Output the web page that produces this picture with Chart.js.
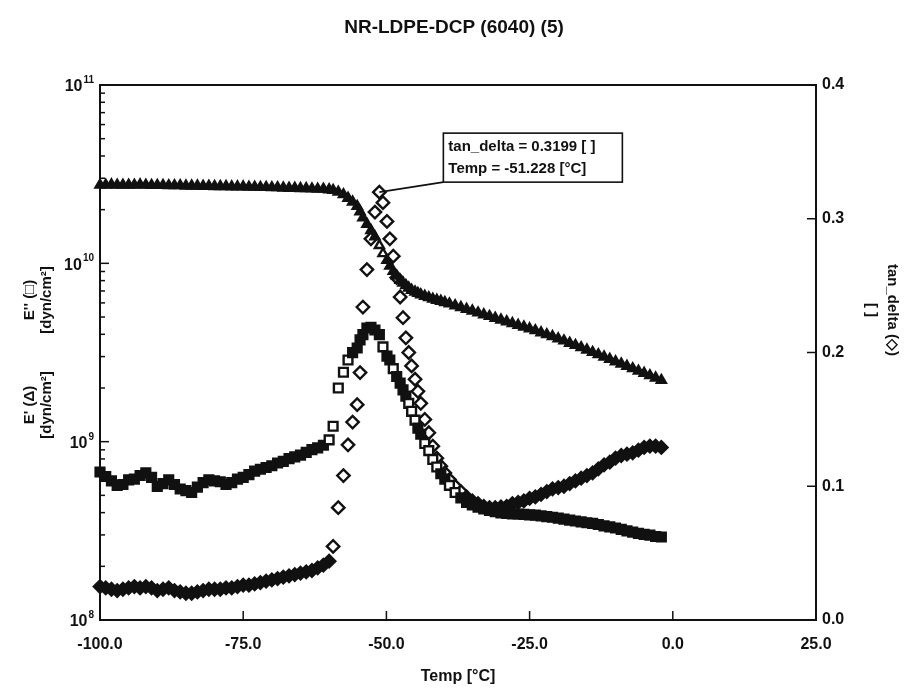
<!DOCTYPE html>
<html>
<head>
<meta charset="utf-8">
<title>NR-LDPE-DCP (6040) (5)</title>
<script src="https://cdn.jsdelivr.net/npm/chart.js@4/dist/chart.umd.min.js"></script>
<style>
  html, body { margin: 0; padding: 0; background: #fff; }
  #wrap { width: 908px; height: 698px; }
</style>
</head>
<body>
<div id="wrap"><canvas id="dma" width="908" height="698"></canvas></div>
<script>
// Temperature sweep [°C]
const temps = [
  -100, -99, -98, -97, -96, -95, -94, -93, -92, -91,
  -90, -89, -88, -87, -86, -85, -84, -83, -82, -81,
  -80, -79, -78, -77, -76, -75, -74, -73, -72, -71,
  -70, -69, -68, -67, -66, -65, -64, -63, -62, -61,
  -60,
  -59.3, -58.4, -57.5, -56.7, -55.9, -55.1, -54.6, -54.1, -53.4, -52.7,
  -52.0, -51.228, -50.6, -49.9, -49.4, -48.8, -48.2, -47.6, -47.1, -46.6,
  -46.1, -45.6, -45.0, -44.5, -44.0, -43.3, -42.6, -41.9, -41.2, -40.5,
  -39.8,
  -39, -38, -37, -36, -35, -34, -33, -32, -31,
  -30, -29, -28, -27, -26, -25, -24, -23, -22, -21,
  -20, -19, -18, -17, -16, -15, -14, -13, -12, -11,
  -10, -9, -8, -7, -6, -5, -4, -3, -2
];

// E' storage modulus [dyn/cm²]
const storageModulus = [
  2.75e10, 2.75e10, 2.76e10, 2.75e10, 2.75e10, 2.75e10, 2.75e10, 2.76e10, 2.75e10, 2.74e10,
  2.74e10, 2.74e10, 2.73e10, 2.73e10, 2.73e10, 2.72e10, 2.72e10, 2.72e10, 2.71e10, 2.71e10,
  2.70e10, 2.70e10, 2.70e10, 2.69e10, 2.69e10, 2.69e10, 2.68e10, 2.68e10, 2.67e10, 2.67e10,
  2.66e10, 2.66e10, 2.65e10, 2.64e10, 2.64e10, 2.63e10, 2.63e10, 2.62e10, 2.61e10, 2.61e10,
  2.59e10,
  2.57e10, 2.51e10, 2.43e10, 2.32e10, 2.21e10, 2.09e10, 1.95e10, 1.80e10, 1.66e10, 1.53e10,
  1.41e10, 1.26e10, 1.135e10, 1.04e10, 9.66e9, 9.02e9, 8.51e9, 8.05e9, 7.76e9, 7.52e9,
  7.28e9, 7.08e9, 6.92e9, 6.79e9, 6.68e9, 6.55e9, 6.43e9, 6.31e9, 6.22e9, 6.14e9,
  6.04e9,
  5.93e9, 5.79e9, 5.66e9, 5.53e9, 5.41e9, 5.28e9, 5.16e9, 5.05e9, 4.93e9,
  4.82e9, 4.71e9, 4.60e9, 4.50e9, 4.40e9, 4.30e9, 4.20e9, 4.09e9, 3.99e9, 3.89e9,
  3.78e9, 3.68e9, 3.57e9, 3.47e9, 3.37e9, 3.27e9, 3.17e9, 3.08e9, 2.99e9, 2.90e9,
  2.81e9, 2.73e9, 2.65e9, 2.57e9, 2.49e9, 2.42e9, 2.35e9, 2.28e9, 2.21e9
];

// E'' loss modulus [dyn/cm²]
const lossModulus = [
  6.76e8, 6.38e8, 6.03e8, 5.69e8, 5.75e8, 6.10e8, 6.17e8, 6.46e8, 6.68e8, 6.31e8,
  5.62e8, 5.82e8, 6.10e8, 5.75e8, 5.43e8, 5.31e8, 5.19e8, 5.56e8, 5.89e8, 6.10e8,
  6.03e8, 5.96e8, 5.75e8, 5.89e8, 6.17e8, 6.31e8, 6.53e8, 6.84e8, 7.00e8, 7.16e8,
  7.33e8, 7.59e8, 7.76e8, 8.04e8, 8.22e8, 8.41e8, 8.71e8, 9.02e8, 9.23e8, 9.55e8,
  1.023e9,
  1.22e9, 2.00e9, 2.45e9, 2.87e9, 3.16e9, 3.35e9, 3.72e9, 3.98e9, 4.34e9, 4.37e9,
  4.23e9, 3.98e9, 3.40e9, 3.02e9, 2.87e9, 2.57e9, 2.32e9, 2.13e9, 1.95e9, 1.80e9,
  1.64e9, 1.48e9, 1.32e9, 1.19e9, 1.10e9, 9.77e8, 8.91e8, 7.94e8, 7.21e8, 6.61e8,
  6.17e8,
  5.69e8, 5.19e8, 4.84e8, 4.57e8, 4.42e8, 4.29e8, 4.19e8, 4.12e8, 4.05e8,
  3.98e8, 3.96e8, 3.94e8, 3.93e8, 3.91e8, 3.89e8, 3.87e8, 3.84e8, 3.80e8, 3.77e8,
  3.73e8, 3.68e8, 3.63e8, 3.59e8, 3.55e8, 3.51e8, 3.48e8, 3.43e8, 3.37e8, 3.33e8,
  3.28e8, 3.22e8, 3.16e8, 3.11e8, 3.06e8, 3.02e8, 2.99e8, 2.94e8, 2.92e8
];

// tan delta [ ]
const tanDelta = [
  0.025, 0.024, 0.023, 0.022, 0.023, 0.024, 0.025, 0.024, 0.025, 0.024,
  0.022, 0.023, 0.024, 0.022, 0.021, 0.020, 0.020, 0.021, 0.022, 0.023,
  0.023, 0.023, 0.024, 0.024, 0.025, 0.026, 0.026, 0.027, 0.028, 0.029,
  0.030, 0.031, 0.032, 0.033, 0.034, 0.035, 0.036, 0.037, 0.039, 0.041,
  0.044,
  0.055, 0.084, 0.108, 0.131, 0.148, 0.161, 0.185, 0.234, 0.262, 0.285,
  0.305, 0.3199, 0.312, 0.298, 0.285, 0.272, 0.256, 0.2415, 0.226, 0.211,
  0.200, 0.190, 0.180, 0.171, 0.162, 0.150, 0.140, 0.130, 0.121, 0.115,
  0.110,
  0.105, 0.100, 0.096, 0.092, 0.089, 0.087, 0.085, 0.084, 0.084,
  0.0845, 0.085, 0.087, 0.088, 0.089, 0.091, 0.092, 0.094, 0.096, 0.098,
  0.099, 0.100, 0.102, 0.104, 0.106, 0.108, 0.110, 0.113, 0.116, 0.118,
  0.121, 0.123, 0.124, 0.125, 0.127, 0.129, 0.130, 0.130, 0.129
];

// Axis tick values
const tempTicks = [-100, -75, -50, -25, 0, 25];
const modulusDecades = [8, 9, 10, 11];
const tanTicks = [0, 0.1, 0.2, 0.3, 0.4];

const FONT = "'Liberation Sans', Arial, Helvetica, sans-serif";
const INK = '#111';

function pts(ys) { return temps.map((t, i) => ({ x: t, y: ys[i] })); }

// Markers packed closely along a run merge into a solid band; isolated ones stay open
function markerFill(ctx) {
  const chart = ctx.chart;
  const ds = chart.data.datasets[ctx.datasetIndex];
  const xs = chart.scales.x, ys = chart.scales[ds.yAxisID];
  const i = ctx.dataIndex;
  if (!xs || !ys || !ds.data[i]) return '#fff';
  const pix = j => [xs.getPixelForValue(ds.data[j].x), ys.getPixelForValue(ds.data[j].y)];
  const c = pix(i);
  let gap = Infinity;
  [i - 1, i + 1].forEach(j => {
    if (j >= 0 && j < ds.data.length) {
      const q = pix(j);
      gap = Math.min(gap, Math.hypot(q[0] - c[0], q[1] - c[1]));
    }
  });
  return gap < 7.5 ? INK : '#fff';
}

// Frame, inward tick marks, left log labels, axis titles and the peak readout
const decorations = {
  id: 'decorations',
  beforeDatasetsDraw(chart) {
    const { ctx, chartArea: a, scales } = chart;
    ctx.save();
    ctx.strokeStyle = INK;
    ctx.lineWidth = 2;
    ctx.strokeRect(a.left, a.top, a.right - a.left, a.bottom - a.top);
    ctx.lineWidth = 1.5;
    const seg = (x1, y1, x2, y2) => { ctx.beginPath(); ctx.moveTo(x1, y1); ctx.lineTo(x2, y2); ctx.stroke(); };
    tempTicks.forEach(v => {
      const x = scales.x.getPixelForValue(v);
      seg(x, a.bottom, x, a.bottom - 9);
    });
    for (let d = modulusDecades[0]; d < modulusDecades[modulusDecades.length - 1]; d++) {
      for (let m = 1; m <= 9; m++) {
        const y = scales.y.getPixelForValue(m * Math.pow(10, d));
        seg(a.left, y, a.left + (m === 1 ? 9 : 5), y);
      }
    }
    tanTicks.forEach(v => {
      const y = scales.y2.getPixelForValue(v);
      seg(a.right, y, a.right - 9, y);
    });
    ctx.restore();
  },
  afterDatasetsDraw(chart) {
    const { ctx, chartArea: a, scales } = chart;
    ctx.save();
    ctx.fillStyle = INK;
    ctx.strokeStyle = INK;

    // left decade labels 10^n
    modulusDecades.forEach(e => {
      const y = scales.y.getPixelForValue(Math.pow(10, e));
      ctx.font = `bold 10px ${FONT}`;
      ctx.textAlign = 'right';
      ctx.textBaseline = 'alphabetic';
      const ex = String(e);
      const ew = ctx.measureText(ex).width;
      ctx.fillText(ex, a.left - 6, y - 2);
      ctx.font = `bold 16px ${FONT}`;
      ctx.textBaseline = 'middle';
      ctx.fillText('10', a.left - 7 - ew, y + 2);
    });

    // rotated axis titles
    const block = (lines, cx, cy, angle, size, gap) => {
      ctx.save();
      ctx.translate(cx, cy);
      ctx.rotate(angle);
      ctx.font = `bold ${size}px ${FONT}`;
      ctx.textAlign = 'center';
      ctx.textBaseline = 'middle';
      lines.forEach((s, i) => ctx.fillText(s, 0, (i - (lines.length - 1) / 2) * gap));
      ctx.restore();
    };
    block(["E'' (\u25A1)", '[dyn/cm\u00B2]'], 38, 300, -Math.PI / 2, 15, 17);
    block(["E' (\u0394)", '[dyn/cm\u00B2]'], 38, 405, -Math.PI / 2, 15, 17);
    block(['tan_delta (\u25C7)', '[ ]'], 882, 310, Math.PI / 2, 15, 21);

    // peak readout
    let k = 0;
    tanDelta.forEach((v, i) => { if (v > tanDelta[k]) k = i; });
    const px = scales.x.getPixelForValue(temps[k]);
    const py = scales.y2.getPixelForValue(tanDelta[k]);
    const bx = px + 64, by = py - 59, bw = 179, bh = 49;
    ctx.lineWidth = 1.6;
    ctx.beginPath(); ctx.moveTo(px, py); ctx.lineTo(bx, by + bh); ctx.stroke();
    ctx.fillStyle = '#fff';
    ctx.fillRect(bx, by, bw, bh);
    ctx.strokeRect(bx, by, bw, bh);
    ctx.fillStyle = INK;
    ctx.font = `bold 15px ${FONT}`;
    ctx.textAlign = 'left';
    ctx.textBaseline = 'middle';
    ctx.fillText(`tan_delta = ${tanDelta[k].toFixed(4)} [ ]`, bx + 5, by + 14);
    ctx.fillText(`Temp = ${temps[k].toFixed(3)} [\u00B0C]`, bx + 5, by + 36);
    ctx.restore();
  }
};

const markerBase = { borderColor: INK, backgroundColor: markerFill, borderWidth: 2.4, showLine: false, clip: false };

new Chart(document.getElementById('dma'), {
  type: 'scatter',
  data: {
    datasets: [
      { ...markerBase, label: "E'", data: pts(storageModulus), yAxisID: 'y', pointStyle: 'triangle', pointRadius: 5.2 },
      { ...markerBase, label: "E''", data: pts(lossModulus), yAxisID: 'y', pointStyle: 'rect', pointRadius: 6.2 },
      { ...markerBase, label: 'tan_delta', data: pts(tanDelta), yAxisID: 'y2', pointStyle: 'rectRot', pointRadius: 6.2 }
    ]
  },
  options: {
    responsive: false,
    animation: false,
    devicePixelRatio: 1,
    layout: { padding: 0 },
    plugins: {
      legend: { display: false },
      tooltip: { enabled: false },
      title: {
        display: true,
        text: 'NR-LDPE-DCP (6040) (5)',
        color: INK,
        font: { family: FONT, size: 19, weight: 'bold' },
        padding: { top: 16, bottom: 46.2 }
      }
    },
    scales: {
      x: {
        type: 'linear', min: -100, max: 25,
        afterFit(s) { s.height = 78; },
        afterBuildTicks(s) { s.ticks = tempTicks.map(v => ({ value: v })); },
        ticks: { callback: v => Number(v).toFixed(1), color: INK, font: { family: FONT, size: 16, weight: 'bold' }, padding: 15, maxRotation: 0, autoSkip: false },
        grid: { display: false, drawTicks: false },
        border: { display: false },
        title: { display: true, text: 'Temp [\u00B0C]', color: INK, font: { family: FONT, size: 16, weight: 'bold' }, padding: { top: 0, bottom: 12 } }
      },
      y: {
        type: 'logarithmic', position: 'left', min: 1e8, max: 1e11,
        afterFit(s) { s.width = 100; },
        ticks: { display: false },
        grid: { display: false, drawTicks: false },
        border: { display: false }
      },
      y2: {
        type: 'linear', position: 'right', min: 0, max: 0.4,
        afterFit(s) { s.width = 92; },
        afterBuildTicks(s) { s.ticks = tanTicks.map(v => ({ value: v })); },
        ticks: { callback: v => Number(v).toFixed(1), color: INK, font: { family: FONT, size: 16, weight: 'bold' }, padding: 6, autoSkip: false },
        grid: { display: false, drawTicks: false },
        border: { display: false }
      }
    }
  },
  plugins: [decorations]
});
</script>
</body>
</html>
